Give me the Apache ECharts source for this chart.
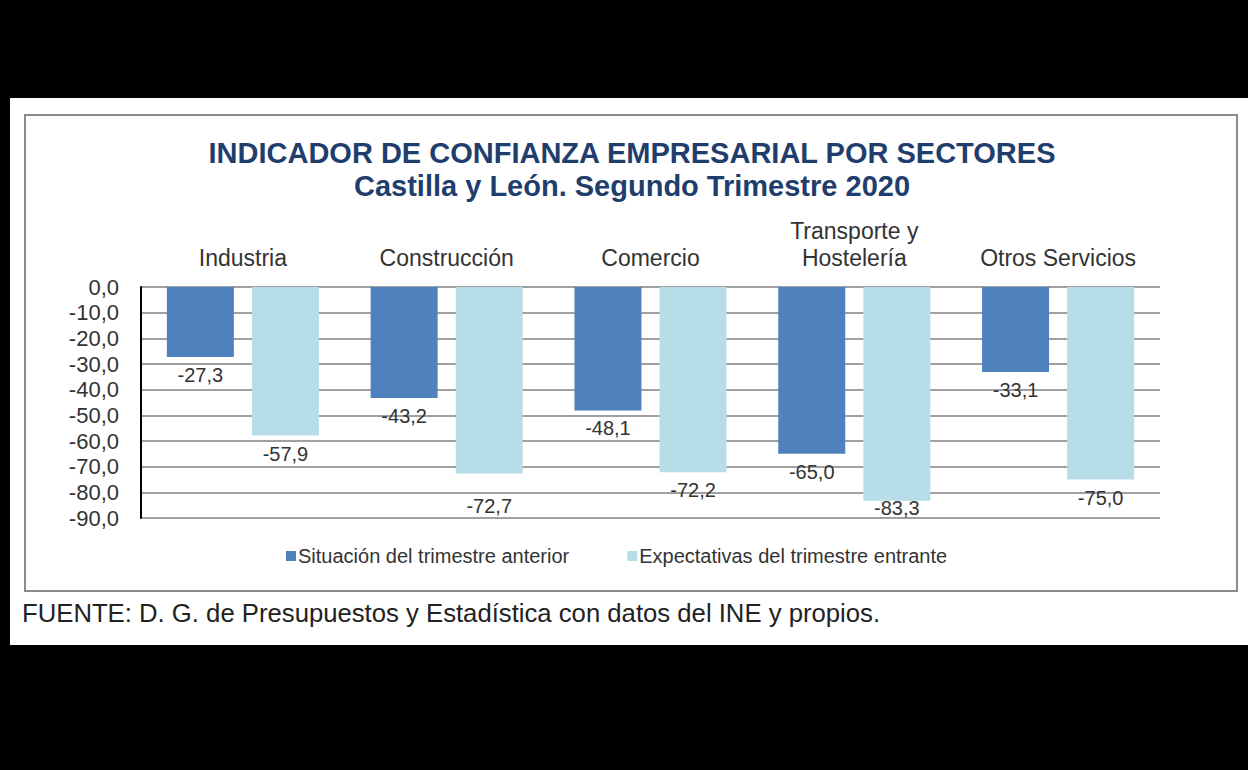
<!DOCTYPE html>
<html>
<head>
<meta charset="utf-8">
<script src="https://cdn.jsdelivr.net/npm/echarts@6/dist/echarts.min.js"></script>
<style>
html,body{margin:0;padding:0;background:#000;}
#c{width:1248px;height:770px;}
</style>
</head>
<body>
<div id="c"></div>
<script>
const categories = ['Industria', 'Construcción', 'Comercio', 'Transporte y\nHostelería', 'Otros Servicios'];
const situacion = [-27.3, -43.2, -48.1, -65.0, -33.1];
const expectativas = [-57.9, -72.7, -72.2, -83.3, -75.0];
const seriesNames = ['Situación del trimestre anterior', 'Expectativas del trimestre entrante'];
const titleLines = ['INDICADOR DE CONFIANZA EMPRESARIAL POR SECTORES', 'Castilla y León. Segundo Trimestre 2020'];
const sourceText = 'FUENTE: D. G. de Presupuestos y Estadística con datos del INE y propios.';

// label nudges (in px) as placed in the original for the second series
const expLabelNudge = [0, 14, 0, -11, 0];

const fmt = v => v.toFixed(1).replace('.', ',');
const chart = echarts.init(document.getElementById('c'), null, {renderer: 'svg'});
const font = 'Arial, "Liberation Sans", sans-serif';

chart.setOption({
  backgroundColor: '#000',
  animation: false,
  textStyle: {fontFamily: font},
  graphic: [
    {type: 'rect', shape: {x: 10, y: 98, width: 1238, height: 547}, style: {fill: '#fff'}, z: -10},
    {type: 'rect', shape: {x: 25, y: 115, width: 1212, height: 476}, style: {fill: '#fff', stroke: '#8c8c8c', lineWidth: 2}, z: -9},
    {type: 'text', x: 632, y: 153, style: {text: titleLines[0], font: 'bold 29px ' + font, fill: '#1f3e6d', align: 'center', verticalAlign: 'middle'}},
    {type: 'text', x: 632, y: 186, style: {text: titleLines[1], font: 'bold 29px ' + font, fill: '#1f3e6d', align: 'center', verticalAlign: 'middle'}},
    {type: 'text', x: 22, y: 613, style: {text: sourceText, font: '25.7px ' + font, fill: '#222', align: 'left', verticalAlign: 'middle'}}
  ],
  legend: {
    data: seriesNames,
    left: 281, top: 541,
    itemWidth: 10, itemHeight: 10, itemGap: 58,
    icon: 'rect',
    textStyle: {fontSize: 20, color: '#333', fontFamily: font, padding: [0, 0, 0, -3]}
  },
  grid: {left: 141, right: 88, top: 287, bottom: 252},
  xAxis: {
    type: 'category',
    data: categories,
    position: 'top',
    axisLine: {show: false},
    axisTick: {show: false},
    axisLabel: {interval: 0, hideOverlap: false, fontSize: 23, color: '#333', margin: 16, lineHeight: 27, fontFamily: font}
  },
  yAxis: {
    type: 'value',
    min: -90, max: 0, interval: 10,
    axisLine: {show: true, lineStyle: {color: '#000', width: 2}},
    axisTick: {show: false},
    axisLabel: {fontSize: 22, color: '#333', margin: 22, formatter: fmt, fontFamily: font},
    splitLine: {lineStyle: {color: '#a0a0a0', width: 2}}
  },
  series: [
    {
      name: seriesNames[0], type: 'bar', data: situacion,
      barWidth: 67, barGap: '27%',
      itemStyle: {color: '#4f81bd'},
      label: {show: true, position: 'bottom', distance: 8, fontSize: 20, color: '#333', formatter: p => fmt(p.value), fontFamily: font}
    },
    {
      name: seriesNames[1], type: 'bar',
      data: expectativas.map((v, i) => ({value: v, label: {offset: [0, expLabelNudge[i]]}})),
      barWidth: 67,
      itemStyle: {color: '#b7dde8'},
      label: {show: true, position: 'bottom', distance: 8, fontSize: 20, color: '#333', formatter: p => fmt(p.value), fontFamily: font}
    }
  ]
});
</script>
</body>
</html>
